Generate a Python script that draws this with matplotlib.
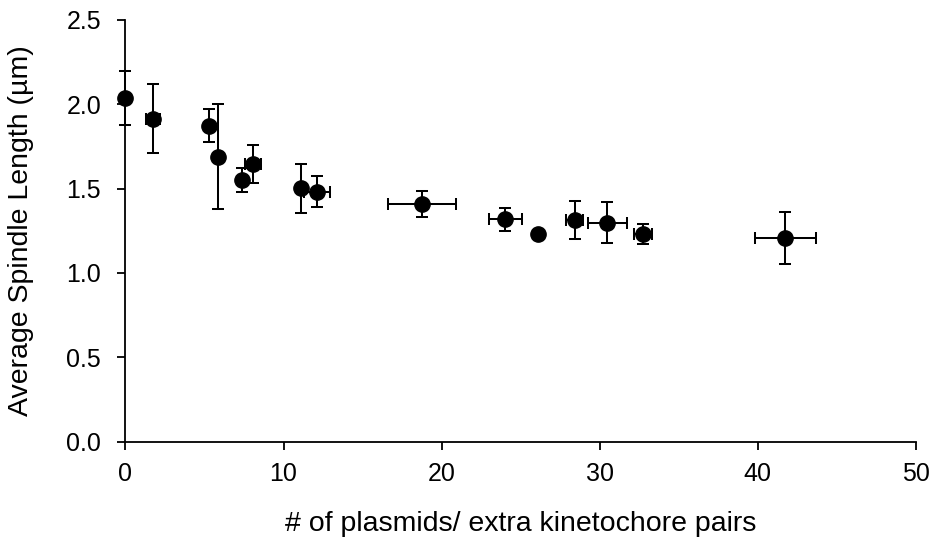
import matplotlib.pyplot as plt

# Data
plasmids = [0, 1.72, 5.26, 5.86, 7.37, 8.07, 11.09, 12.13, 18.74, 24.02, 26.11, 28.43, 30.49, 32.74, 41.75]
plasmids_err = [0, 0.45, 0, 0, 0, 0.49, 0, 0.82, 2.15, 1.05, 0, 0.54, 1.21, 0.58, 1.95]
spindle_length = [2.035, 1.915, 1.872, 1.690, 1.552, 1.647, 1.502, 1.483, 1.408, 1.319, 1.230, 1.314, 1.299, 1.230, 1.208]
spindle_err = [0.16, 0.205, 0.098, 0.31, 0.07, 0.112, 0.145, 0.09, 0.077, 0.068, 0.02, 0.11, 0.122, 0.06, 0.155]

y_ticks = [0.0, 0.5, 1.0, 1.5, 2.0, 2.5]
x_ticks = [0, 10, 20, 30, 40, 50]

plt.rcParams['font.family'] = ['Liberation Sans', 'DejaVu Sans']

fig = plt.figure(figsize=(9.33, 5.43), dpi=100)
ax = fig.add_axes([0.1345, 0.1866, 0.847, 0.7766])

ax.errorbar(plasmids, spindle_length, xerr=plasmids_err, yerr=spindle_err,
            fmt='o', color='black', markersize=11, elinewidth=1.45,
            capsize=4.2, capthick=1.45, clip_on=False, zorder=3)

ax.set_xlim(0, 50)
ax.set_ylim(0, 2.5)
ax.set_xticks(x_ticks)
ax.set_yticks(y_ticks)
ax.set_yticklabels([f'{v:.1f}' for v in y_ticks])

for side in ['top', 'right']:
    ax.spines[side].set_visible(False)
for side in ['left', 'bottom']:
    ax.spines[side].set_linewidth(1.3)

ax.tick_params(direction='out', length=5.5, width=1.3, labelsize=18)
ax.tick_params(axis='x', pad=9)
ax.tick_params(axis='y', pad=12)

ax.set_xlabel('# of plasmids/ extra kinetochore pairs', fontsize=20.5, labelpad=18)
ax.set_ylabel('Average Spindle Length (\u00b5m)', fontsize=20.5, labelpad=23)

plt.savefig('out.png', dpi=100)
plt.close(fig)
